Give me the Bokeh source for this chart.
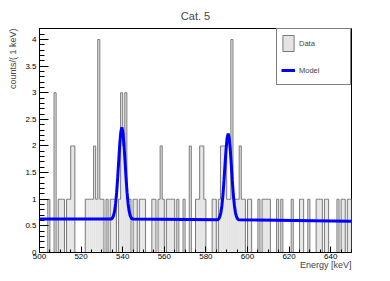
from bokeh.plotting import figure
from bokeh.models import (Range1d, SingleIntervalTicker, LinearAxis, NumeralTickFormatter,
                          Legend, LegendItem, Title, ColumnDataSource)
from bokeh.embed import file_html
from bokeh.resources import INLINE

# ---- data ----
bin_lo = list(range(500, 650))
counts = [
    0, 0, 0, 0, 1, 0, 0, 3, 0, 1,   # 500-509
    1, 1, 0, 1, 1, 2, 2, 0, 0, 0,   # 510-519
    0, 0, 1, 1, 1, 1, 2, 1, 4, 1,   # 520-529
    1, 0, 1, 0, 1, 1, 1, 0, 1, 3,   # 530-539
    2, 3, 1, 1, 0, 1, 1, 0, 1, 1,   # 540-549
    1, 0, 0, 0, 1, 1, 0, 1, 2, 1,   # 550-559
    0, 1, 1, 1, 1, 0, 1, 0, 0, 1,   # 560-569
    0, 0, 2, 0, 0, 1, 1, 2, 2, 1,   # 570-579
    0, 0, 0, 1, 1, 0, 1, 2, 2, 2,   # 580-589
    1, 1, 4, 1, 1, 1, 2, 1, 1, 0,   # 590-599
    1, 1, 0, 0, 0, 1, 0, 1, 1, 1,   # 600-609
    1, 0, 0, 0, 1, 0, 1, 0, 0, 0,   # 610-619
    0, 1, 0, 0, 0, 1, 1, 0, 0, 1,   # 620-629
    0, 0, 0, 1, 1, 1, 0, 1, 1, 0,   # 630-639
    0, 0, 0, 1, 0, 1, 1, 0, 1, 1,   # 640-649
]
bin_hi = [b + 1 for b in bin_lo]

model_x = [500.0,
           534.6, 535.1, 535.6, 536.1, 536.6, 537.1, 537.6, 538.1, 538.6, 539.1,
           539.6,
           540.1, 540.6, 541.1, 541.6, 542.1, 542.6, 543.1, 543.6, 544.1, 544.6,
           585.7, 586.2, 586.7, 587.2, 587.7, 588.2, 588.7, 589.2, 589.7, 590.2,
           590.7,
           591.2, 591.7, 592.2, 592.7, 593.2, 593.7, 594.2, 594.7, 595.2, 595.7,
           650.0]
model_y = [0.630,
           0.631, 0.651, 0.694, 0.775, 0.916, 1.128, 1.410, 1.732, 2.042, 2.265,
           2.350,
           2.265, 2.042, 1.732, 1.410, 1.128, 0.916, 0.775, 0.694, 0.651, 0.631,
           0.615, 0.634, 0.675, 0.751, 0.883, 1.083, 1.348, 1.651, 1.942, 2.152,
           2.230,
           2.152, 1.942, 1.651, 1.348, 1.083, 0.883, 0.751, 0.675, 0.634, 0.615,
           0.585]

x_ticks_step = 20
y_ticks_step = 0.5

FONT = "Liberation Sans"
FILL = "#e4e4e4"
EDGE = "#7a7a7a"

p = figure(width=390, height=281, output_backend="svg", toolbar_location=None,
           x_range=Range1d(500, 650), y_range=Range1d(0, 4.206),
           x_axis_type=None, y_axis_type=None,
           min_border_left=39, min_border_right=39, min_border_top=28, min_border_bottom=29)
p.outline_line_color = "black"
p.outline_line_width = 1
p.background_fill_color = "white"
p.border_fill_color = "white"

src = ColumnDataSource(dict(left=bin_lo, right=bin_hi, top=counts))
p.quad(left="left", right="right", bottom=0, top="top", source=src,
       fill_color=FILL, line_color=None)
legend_box = p.quad(left="left", right="right", bottom=0, top="top", source=src,
                    fill_color=FILL, line_color=EDGE, line_width=1, visible=False)
p.step(x=bin_lo + [bin_hi[-1]], y=counts + [counts[-1]], mode="after",
       line_color=EDGE, line_width=1)
model = p.line(x=model_x, y=model_y, line_color="#0000ff", line_width=3)

xaxis = LinearAxis(ticker=SingleIntervalTicker(interval=x_ticks_step, num_minor_ticks=4),
                   major_tick_in=6, major_tick_out=0, minor_tick_in=3, minor_tick_out=0,
                   major_label_standoff=1, major_label_text_font_size="8px",
                   major_label_text_font=FONT, major_label_text_color="black",
                   axis_line_color="black", major_tick_line_color="black",
                   minor_tick_line_color="black")
p.add_layout(xaxis, "below")
yaxis = LinearAxis(ticker=SingleIntervalTicker(interval=y_ticks_step, num_minor_ticks=5),
                   formatter=NumeralTickFormatter(format="0.[0]"),
                   major_tick_in=9, major_tick_out=0, minor_tick_in=5, minor_tick_out=0,
                   major_label_standoff=3, major_label_text_font_size="8px",
                   major_label_text_font=FONT, major_label_text_color="black",
                   axis_line_color="black", major_tick_line_color="black",
                   minor_tick_line_color="black")
p.add_layout(yaxis, "left")

p.add_layout(Title(text="Energy [keV]", align="right", text_font_size="9px",
                   text_font_style="normal", text_font=FONT, standoff=-7), "below")
p.add_layout(Title(text="counts/( 1 keV)", align="right", text_font_size="9px",
                   text_font_style="normal", text_font=FONT, standoff=10), "left")

p.title.text = "Cat. 5"
p.title.align = "center"
p.title.text_font_size = "11px"
p.title.text_font_style = "normal"
p.title.text_font = FONT
p.title.standoff = 0
# small empty spacer between title and frame
p.add_layout(Title(text=" ", text_font_size="4px", standoff=0), "above")

legend = Legend(items=[LegendItem(label="Data", renderers=[legend_box]),
                       LegendItem(label="Model", renderers=[model])],
                location="top_right", margin=0, padding=4, spacing=7,
                glyph_width=14, glyph_height=20, label_standoff=4,
                label_width=47, label_height=20,
                label_text_font=FONT, label_text_font_size="7.5px",
                border_line_color="black", border_line_width=1,
                background_fill_color="white", background_fill_alpha=1)
p.add_layout(legend, "center")

open("out.html", "w").write(file_html(p, INLINE))
